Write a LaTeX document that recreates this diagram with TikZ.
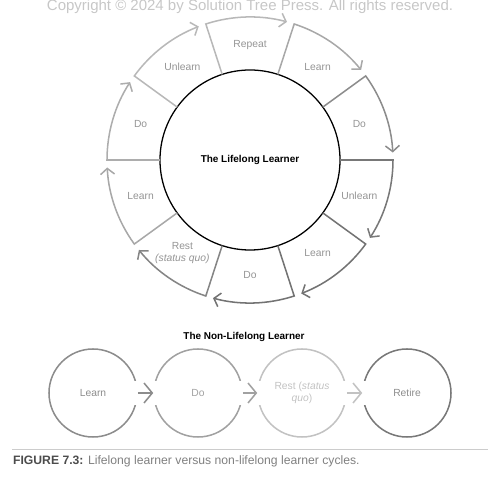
\documentclass[tikz,border=0pt]{standalone}
\usepackage{fontspec}
\setmainfont{Liberation Sans}
\definecolor{labelgray}{gray}{0.58}
\definecolor{rulegray}{gray}{0.8}
\definecolor{markgray}{gray}{0.78}
\definecolor{capgray}{gray}{0.5}
\definecolor{capdark}{gray}{0.3}
\definecolor{segA}{gray}{0.72}
\definecolor{segB}{gray}{0.66}
\definecolor{segC}{gray}{0.55}
\definecolor{segD}{gray}{0.47}
\definecolor{segE}{gray}{0.45}
\definecolor{segF}{gray}{0.52}
\definecolor{segG}{gray}{0.68}
\definecolor{learngray}{gray}{0.55}
\definecolor{dogray}{gray}{0.63}
\definecolor{restgray}{gray}{0.76}
\definecolor{retiregray}{gray}{0.47}
\usetikzlibrary{arrows.meta,calc}

\begin{document}
\begin{tikzpicture}[x=0.03cm, y=0.03cm,
    seg/.style={line width=1.3pt, line join=miter, -{Straight Barb[length=5pt, width=12pt]}},
    lbl/.style={font=\fontsize{8.8}{10.5}\selectfont, text=labelgray, align=center},
    heading/.style={font=\bfseries\fontsize{8.5}{10}\selectfont},
    stage/.style={circle, draw, line width=1.3pt, minimum size=2.64cm, inner sep=0pt,
                  align=center, font=\fontsize{8.8}{10.5}\selectfont},
    flow/.style={line width=1.3pt, -{Straight Barb[length=7pt, width=17pt]},
                 preaction={draw=white, line width=20pt, line cap=rect, -}}]

    \useasboundingbox (0,0) rectangle (500,477);

    \node[text=markgray, font=\fontsize{12.8}{14}\selectfont, anchor=base] (mark) at (250,466)
        {Copyright © 2024 by Solution Tree Press. All rights reserved.};

    \node[circle, draw, line width=1.1pt, minimum size=5.4cm, heading] (hub) at (250,317) {The Lifelong Learner};

    \foreach \a/\txt/\col [count=\i] in {108/Repeat/segA, 72/Learn/segB, 36/Do/segC, 0/Unlearn/segD,
        -36/Learn/segE, -72/Do/segE, -108/{Rest\\\textit{(status quo)}}/segF,
        -144/Learn/segB, 180/Do/segG, 144/Unlearn/segA} {
        \draw[seg, \col] ($(hub.center)+(\a:90)$) -- ($(hub.center)+(\a:143)$)
            arc[start angle=\a, end angle=\a-33, radius=143];
        \node[lbl] (seg\i) at ($(hub.center)+(\a-18:115)$) {\txt};
    }

    \node[heading] (nontitle) at (244,140) {The Non-Lifelong Learner};

    \node[stage, draw=learngray, text=learngray] (learn) at (93,84) {Learn};
    \node[stage, draw=dogray, text=dogray] (do) at (198,84) {Do};
    \node[stage, draw=restgray, text=restgray] (rest) at (302,84) {Rest (\textit{status}\\\textit{quo})};
    \node[stage, draw=retiregray, text=learngray] (retire) at (407,84) {Retire};

    \draw[flow, learngray] (learn.east) -- (do.west);
    \draw[flow, dogray] (do.east) -- (rest.west);
    \draw[flow, restgray] (rest.east) -- (retire.west);

    \draw[rulegray, line width=0.6pt] (12,28) -- (488,28);
    \node[anchor=west, text=capgray, font=\fontsize{10.4}{12}\selectfont] (caption) at (9,16)
        {\textcolor{capdark}{\textbf{FIGURE 7.3:}} Lifelong learner versus non-lifelong learner cycles.};
\end{tikzpicture}
\end{document}
